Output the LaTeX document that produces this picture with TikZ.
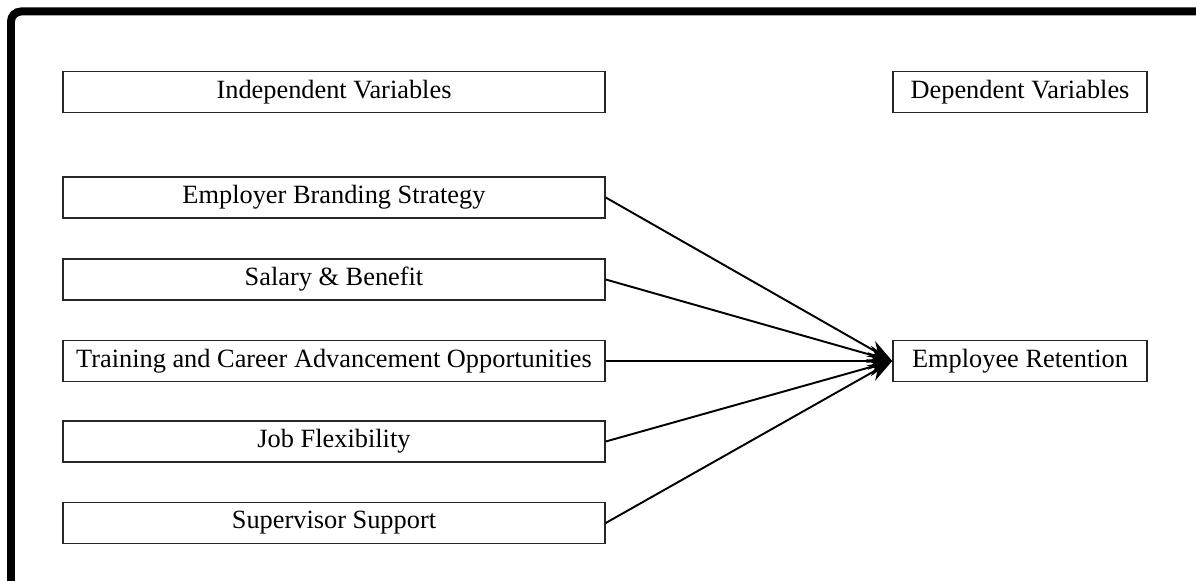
\documentclass[tikz,border=0pt]{standalone}
\usepackage{fontspec}
\setmainfont{Liberation Serif}
\usetikzlibrary{arrows.meta}

\tikzset{
  varbox/.style={draw=black!85, line width=0.9pt, minimum width=10.84cm, minimum height=0.82cm, inner sep=0pt, font=\fontsize{15}{18}\selectfont},
  depbox/.style={varbox, minimum width=5.08cm},
  link/.style={line width=1.1pt, -{Stealth[length=14pt, width=10pt]}}
}

\begin{document}
\begin{tikzpicture}[x=0.02cm, y=0.02cm]
    \useasboundingbox (0,0) rectangle (1196,581);
    % outer frame
    \begin{scope}
      \clip (0,0) rectangle (1196,581);
      \draw[line width=0.16cm] (11,-20) -- (11,559.5) arc[start angle=180, end angle=90, radius=10] -- (1240,569.5);
    \end{scope}
    % headings
    \node[varbox] (indep) at (334,489) {Independent Variables};
    \node[depbox] (dep) at (1020,489) {Dependent Variables};
    % independent variables
    \node[varbox] (brand) at (334,383.5) {Employer Branding Strategy};
    \node[varbox] (salary) at (334,301.5) {Salary \& Benefit};
    \node[varbox] (train) at (334,220) {Training and Career Advancement Opportunities};
    \node[varbox] (flex) at (334,139.5) {Job Flexibility};
    \node[varbox] (super) at (334,58) {Supervisor Support};
    % dependent variable
    \node[depbox] (reten) at (1020,220) {Employee Retention};
    \draw[link] (brand.east) -- (reten.west);
    \draw[link] (salary.east) -- (reten.west);
    \draw[link] (train.east) -- (reten.west);
    \draw[link] (flex.east) -- (reten.west);
    \draw[link] (super.east) -- (reten.west);
\end{tikzpicture}
\end{document}
